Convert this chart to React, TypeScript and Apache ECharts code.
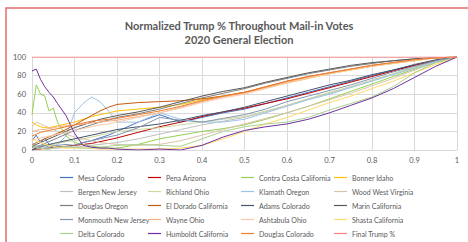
import React, { useEffect, useRef } from "react";
import * as echarts from "echarts";

const titleLines = ["Normalized Trump % Throughout Mail-in Votes", "2020 General Election"];

const xs = [0, 0.01, 0.02, 0.03, 0.04, 0.05, 0.06, 0.08, 0.1, 0.12, 0.14, 0.16, 0.18, 0.2, 0.25, 0.3, 0.35, 0.4, 0.45, 0.5, 0.55, 0.6, 0.65, 0.7, 0.75, 0.8, 0.85, 0.9, 0.95, 1];

const mesaColorado = [10, 16, 8, 13, 6, 5, 4, 3, 5, 8, 10, 13, 16, 20, 30, 38, 30, 35, 40, 44, 50, 56, 62, 68, 74, 80, 86, 91, 96, 100];
const penaArizona = [0, 1, 1, 2, 2, 3, 3, 4, 5, 6, 7, 9, 11, 13, 19, 25, 30, 36, 41, 45, 50, 55, 61, 67, 73, 79, 85, 91, 96, 100];
const contraCosta = [38, 70, 60, 58, 42, 45, 30, 15, 8, 6, 4, 3, 2, 2, 6, 12, 16, 20, 23, 27, 33, 40, 47, 55, 63, 71, 79, 87, 94, 100];
const bonnerIdaho = [30, 27, 25, 24, 24, 25, 26, 28, 30, 33, 36, 38, 40, 42, 44, 46, 49, 54, 58, 62, 67, 72, 77, 82, 86, 90, 93, 96, 99, 100];
const bergenNJ = [3, 2, 2, 1, 1, 2, 2, 3, 3, 4, 5, 6, 7, 8, 12, 17, 22, 27, 31, 35, 41, 48, 55, 61, 68, 75, 82, 89, 95, 100];
const richlandOhio = [0, 2, 3, 4, 5, 6, 7, 9, 10, 12, 14, 16, 18, 20, 22, 24, 27, 30, 33, 36, 42, 48, 55, 62, 68, 75, 82, 89, 95, 100];
const klamathOregon = [8, 5, 4, 3, 3, 4, 6, 15, 40, 50, 57, 52, 42, 30, 30, 40, 33, 30, 30, 33, 40, 47, 54, 60, 67, 74, 81, 88, 95, 100];
const woodWV = [25, 30, 28, 26, 24, 22, 20, 17, 14, 12, 10, 8, 7, 6, 5, 6, 10, 16, 22, 28, 34, 40, 47, 54, 61, 69, 77, 86, 94, 100];
const douglasOregon = [0, 3, 5, 7, 9, 11, 13, 17, 21, 24, 27, 30, 32, 35, 39, 44, 50, 56, 61, 66, 72, 77, 82, 86, 90, 93, 96, 98, 99, 100];
const elDorado = [5, 8, 10, 12, 14, 16, 18, 22, 27, 32, 37, 42, 46, 49, 51, 52, 53, 55, 58, 62, 68, 74, 79, 83, 87, 91, 94, 97, 99, 100];
const adamsColorado = [0, 2, 3, 5, 6, 7, 8, 10, 12, 14, 16, 18, 20, 22, 25, 28, 32, 37, 41, 46, 52, 58, 64, 70, 75, 81, 86, 92, 97, 100];
const marinCalifornia = [3, 6, 8, 10, 12, 14, 16, 20, 24, 27, 30, 33, 35, 37, 41, 46, 52, 58, 63, 67, 73, 78, 83, 87, 91, 94, 96, 98, 99, 100];
const monmouthNJ = [5, 3, 4, 5, 3, 4, 5, 6, 5, 8, 10, 12, 14, 16, 24, 35, 32, 30, 34, 38, 44, 52, 58, 64, 70, 77, 84, 90, 96, 100];
const wayneOhio = [20, 21, 22, 22, 23, 24, 25, 26, 27, 28, 29, 30, 31, 32, 36, 40, 46, 52, 57, 61, 67, 73, 78, 83, 87, 90, 94, 97, 99, 100];
const ashtabulaOhio = [10, 12, 13, 14, 15, 16, 17, 19, 21, 23, 25, 27, 28, 30, 35, 40, 45, 51, 56, 60, 66, 72, 77, 82, 86, 90, 93, 96, 99, 100];
const shastaCalifornia = [12, 10, 8, 6, 5, 4, 3, 2, 2, 2, 2, 1, 1, 1, 1, 1, 2, 5, 12, 20, 28, 35, 43, 51, 58, 66, 74, 83, 92, 100];
const deltaColorado = [5, 3, 2, 1, 1, 2, 3, 4, 3, 2, 2, 3, 4, 5, 6, 5, 4, 12, 20, 25, 28, 30, 35, 43, 50, 57, 68, 83, 94, 100];
const humboldtCalifornia = [85, 87, 76, 68, 62, 57, 50, 37, 18, 5, 3, 2, 2, 1, 0, 1, 0, 5, 14, 21, 25, 28, 33, 40, 48, 56, 66, 78, 90, 100];
const douglasColorado = [15, 17, 19, 20, 21, 22, 23, 25, 27, 29, 31, 32, 33, 34, 38, 42, 47, 53, 58, 62, 68, 74, 79, 83, 87, 91, 94, 97, 99, 100];
const finalTrump = [100, 100, 100, 100, 100, 100, 100, 100, 100, 100, 100, 100, 100, 100, 100, 100, 100, 100, 100, 100, 100, 100, 100, 100, 100, 100, 100, 100, 100, 100];

const seriesNames = [
  "Mesa Colorado", "Pena Arizona", "Contra Costa California", "Bonner Idaho",
  "Bergen New Jersey", "Richland Ohio", "Klamath Oregon", "Wood West Virginia",
  "Douglas Oregon", "El Dorado California", "Adams Colorado", "Marin California",
  "Monmouth New Jersey", "Wayne Ohio", "Ashtabula Ohio", "Shasta California",
  "Delta Colorado", "Humboldt California", "Douglas Colorado", "Final Trump %",
];
const seriesValues = [
  mesaColorado, penaArizona, contraCosta, bonnerIdaho,
  bergenNJ, richlandOhio, klamathOregon, woodWV,
  douglasOregon, elDorado, adamsColorado, marinCalifornia,
  monmouthNJ, wayneOhio, ashtabulaOhio, shastaCalifornia,
  deltaColorado, humboldtCalifornia, douglasColorado, finalTrump,
];
const seriesColors = [
  "#4472C4", "#C00000", "#92D050", "#FFC000",
  "#BFBFBF", "#C9D9A0", "#9DC3E6", "#D9C3A9",
  "#7F7F7F", "#C55A11", "#44546A", "#595959",
  "#8497B0", "#F4B183", "#F8CBAD", "#FFD966",
  "#A9D18E", "#7030A0", "#ED7D31", "#FF7C80",
];

const xTicks = [0, 0.1, 0.2, 0.3, 0.4, 0.5, 0.6, 0.7, 0.8, 0.9, 1];
const yTicks = [0, 20, 40, 60, 80, 100];

export default function App() {
  const ref = useRef<HTMLDivElement>(null);
  useEffect(() => {
    if (!ref.current) return;
    const chart = echarts.init(ref.current, undefined, { renderer: "svg" });
    const font = "Lato";
    const legendCols = [0, 1, 2, 3].map((c) => seriesNames.filter((_, i) => i % 4 === c));
    const legendLefts = [60, 148, 241, 334];
    chart.setOption({
      animation: false,
      textStyle: { fontFamily: font },
      graphic: [
        {
          type: "rect",
          shape: { x: 6, y: 8, width: 470, height: 240 },
          style: { fill: "#fff", stroke: "#E46C6C", lineWidth: 1.5 },
          z: -10,
        },
        ...titleLines.map((t, i) => ({
          type: "text",
          x: 239,
          y: 25 + i * 14.5,
          style: {
            text: t,
            fill: "#595959",
            font: `bold 11px ${font}`,
            textAlign: "center",
            textVerticalAlign: "middle",
          },
        })),
      ],
      grid: { left: 32, right: 11, top: 57, bottom: 92, containLabel: false },
      xAxis: {
        type: "value",
        min: xTicks[0],
        max: xTicks[xTicks.length - 1],
        interval: 0.1,
        axisLine: { show: true, lineStyle: { color: "#D9D9D9" } },
        axisTick: { show: false },
        splitLine: { show: true, lineStyle: { color: "#D9D9D9", width: 1 } },
        axisLabel: { color: "#595959", fontSize: 7.5, margin: 6, fontFamily: font },
      },
      yAxis: {
        type: "value",
        min: yTicks[0],
        max: yTicks[yTicks.length - 1],
        interval: 20,
        axisLine: { show: false },
        axisTick: { show: false },
        splitLine: { show: true, lineStyle: { color: "#D9D9D9", width: 1 } },
        axisLabel: { color: "#595959", fontSize: 7.5, margin: 6, fontFamily: font },
      },
      legend: legendCols.map((names, c) => ({
        orient: "vertical",
        left: legendLefts[c],
        top: 173,
        icon: "rect",
        itemWidth: 13,
        itemHeight: 1.2,
        itemGap: 5,
        padding: 0,
        data: names,
        textStyle: { color: "#595959", fontSize: 7, fontFamily: font, lineHeight: 9 },
      })),
      series: seriesNames.map((name, i) => ({
        type: "line",
        name,
        data: xs.map((x, j) => [x, seriesValues[i][j]]),
        showSymbol: false,
        symbol: "none",
        lineStyle: { width: i === 19 ? 1.2 : 1, color: seriesColors[i] },
        itemStyle: { color: seriesColors[i] },
        z: i === 19 ? 3 : 2,
      })),
    });
    return () => chart.dispose();
  }, []);
  return (
    <div
      ref={ref}
      style={{ position: "fixed", left: 0, top: 0, width: 468, height: 242, background: "#fff" }}
    />
  );
}
